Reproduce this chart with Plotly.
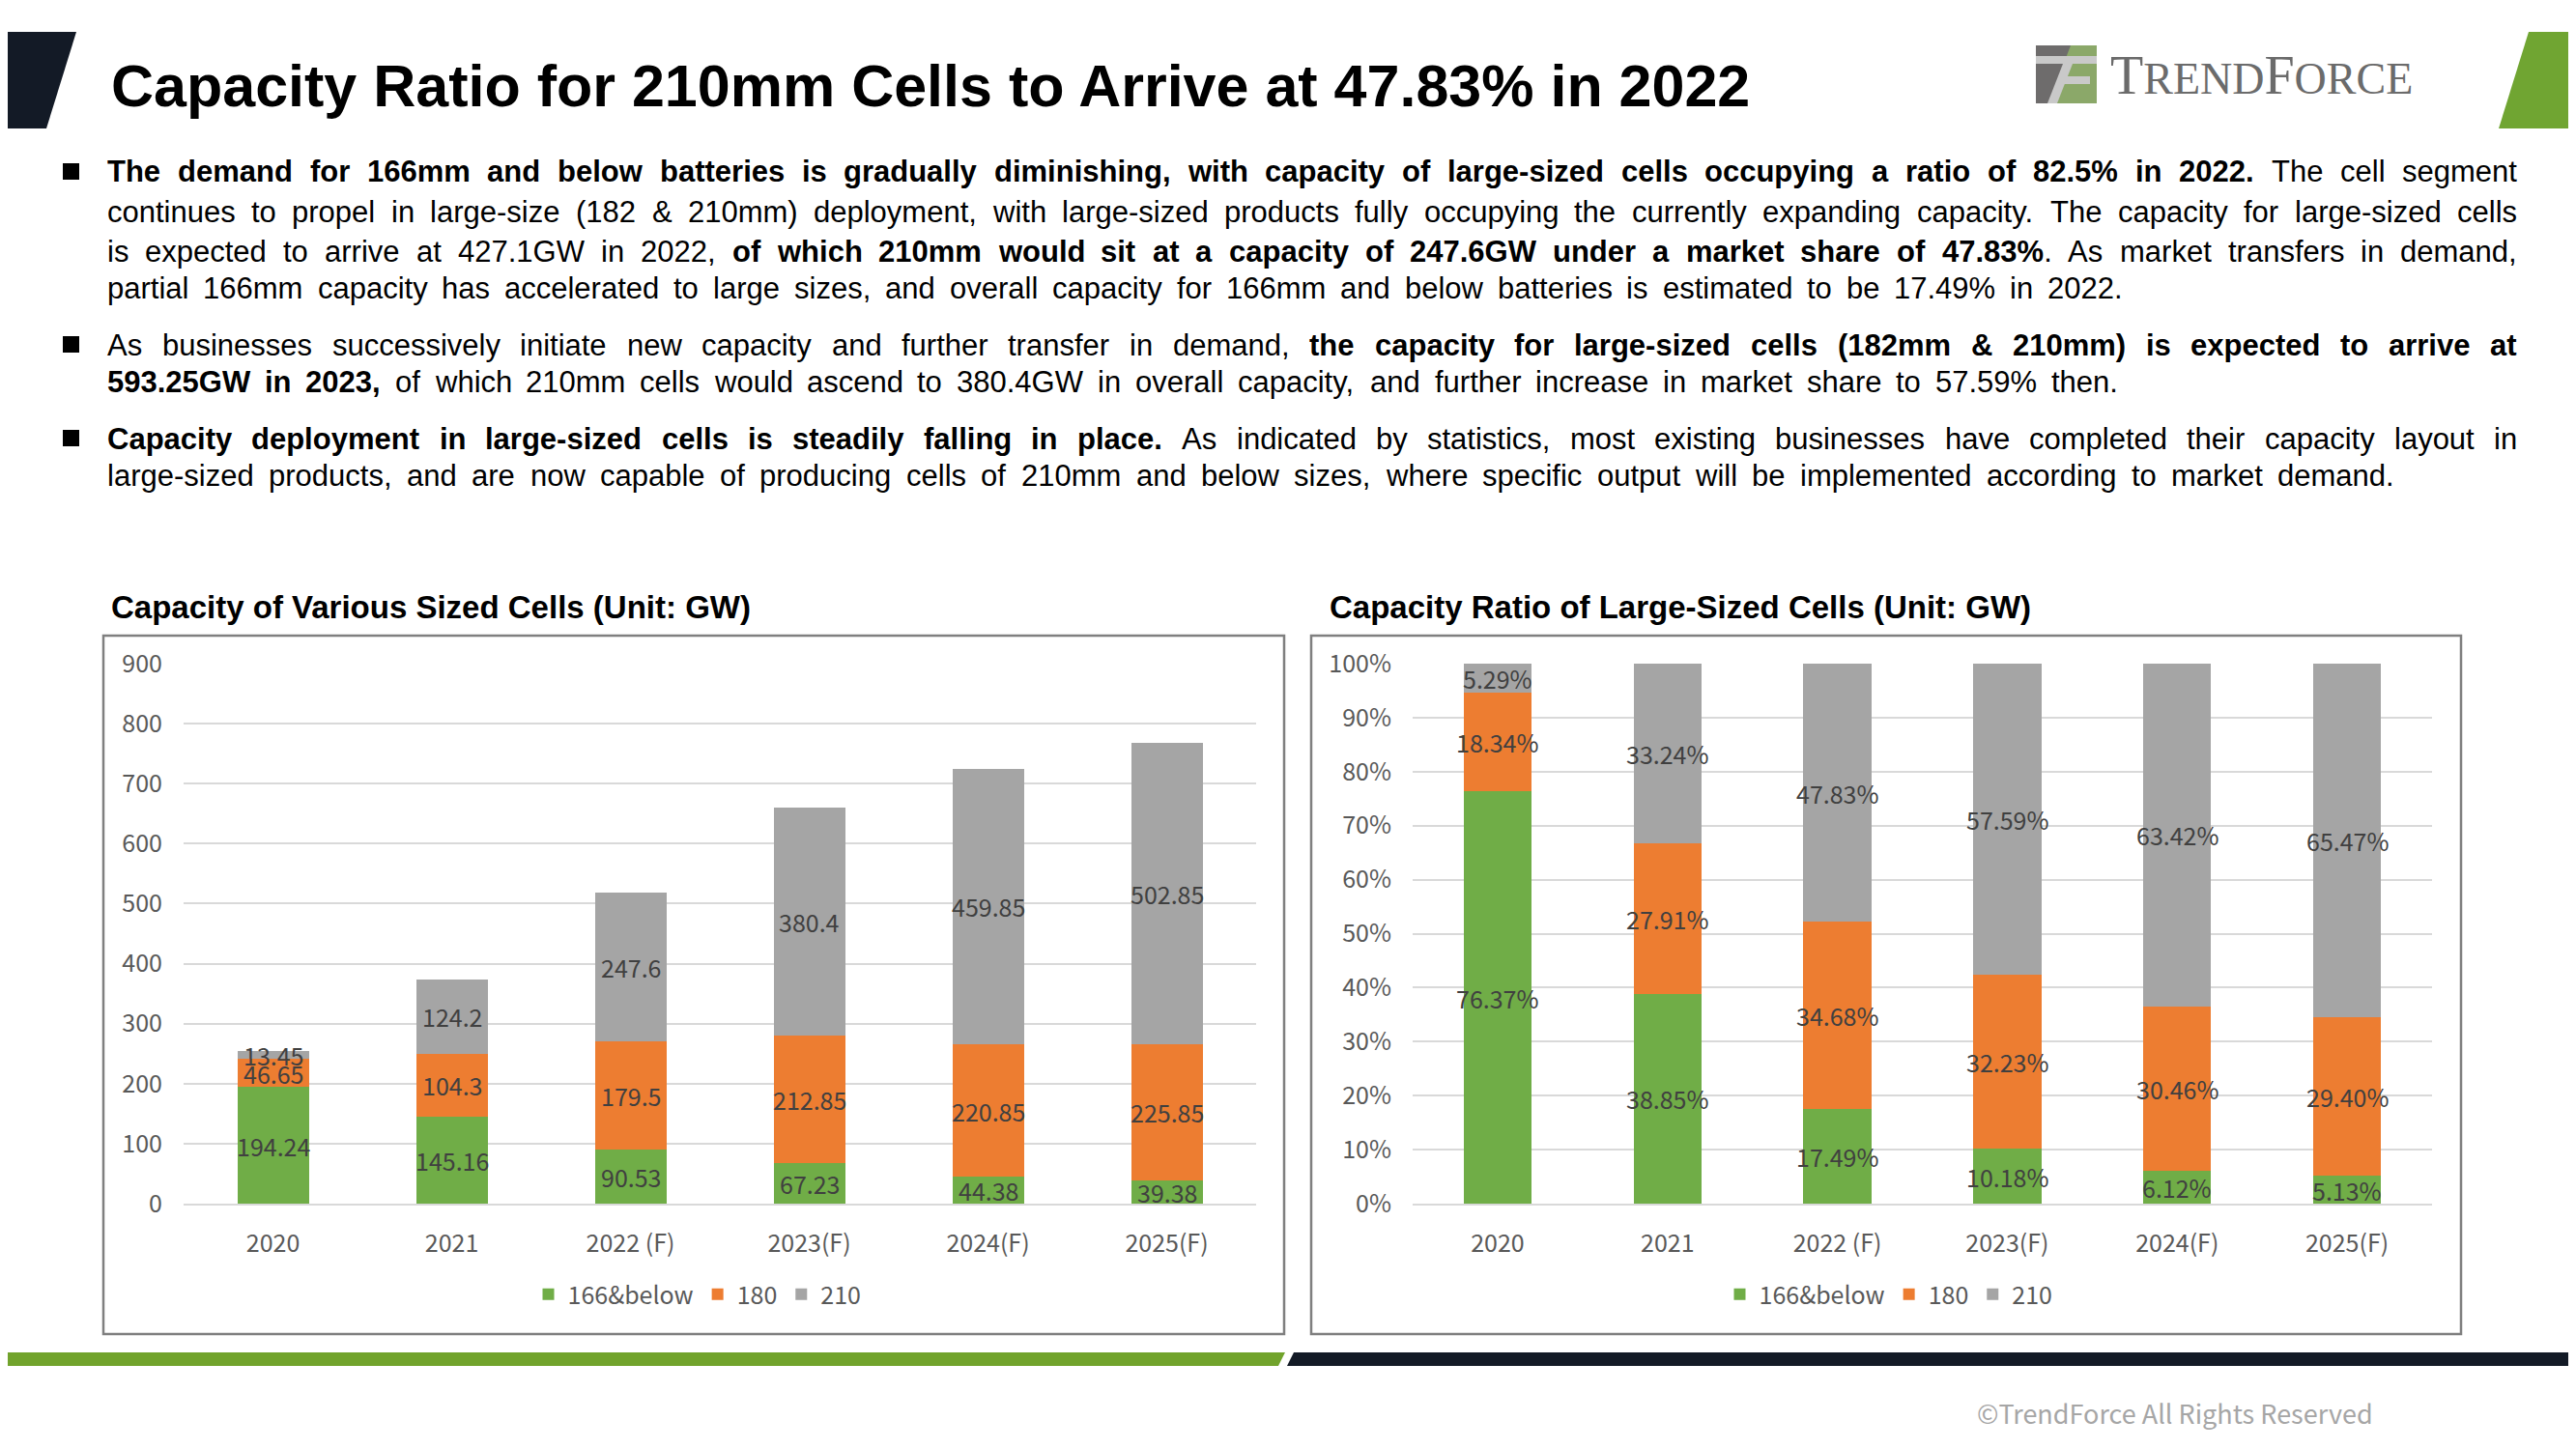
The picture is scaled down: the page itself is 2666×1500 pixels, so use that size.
import re
import plotly.graph_objects as go

# ---------------- data ----------------
categories = ["2020", "2021", "2022 (F)", "2023(F)", "2024(F)", "2025(F)"]
series_names = ["166&below", "180", "210"]
cap_166 = [194.24, 145.16, 90.53, 67.23, 44.38, 39.38]
cap_180 = [46.65, 104.3, 179.5, 212.85, 220.85, 225.85]
cap_210 = [13.45, 124.2, 247.6, 380.4, 459.85, 502.85]
ratio_166 = [76.37, 38.85, 17.49, 10.18, 6.12, 5.13]
ratio_180 = [18.34, 27.91, 34.68, 32.23, 30.46, 29.40]
ratio_210 = [5.29, 33.24, 47.83, 57.59, 63.42, 65.47]
left_ticks = [0, 100, 200, 300, 400, 500, 600, 700, 800, 900]
right_ticks = [0, 10, 20, 30, 40, 50, 60, 70, 80, 90, 100]

colors = ["#70AD47", "#ED7D31", "#A5A5A5"]

W, H = 2666, 1500
OX, OY = 8, 8   # page body margin compensation
def X(px): return (px - OX) / W
def Y(py): return 1 - (py - OY) / H

LBL_FONT = "Noto Sans CJK TC"
LBL_COLOR = "#404040"
fig = go.Figure()

left_series = [cap_166, cap_180, cap_210]
right_series = [ratio_166, ratio_180, ratio_210]
for name, vals, col in zip(series_names, left_series, colors):
    fig.add_trace(go.Bar(x=categories, y=vals, name=name, marker_color=col, marker_line_width=0,
                         xaxis="x", yaxis="y", legend="legend", hoverinfo="skip"))
for name, vals, col in zip(series_names, right_series, colors):
    fig.add_trace(go.Bar(x=categories, y=vals, name=name, marker_color=col, marker_line_width=0,
                         xaxis="x2", yaxis="y2", legend="legend2", hoverinfo="skip"))

axis_font = dict(family=LBL_FONT, size=25, color="#595959")
ydom = [Y(1246), Y(687)]
common_x = dict(type="category", categoryorder="array", categoryarray=categories,
                range=[-0.5, len(categories) - 0.5],
                showgrid=False, zeroline=False, showline=True, linecolor="#D9D9D9", linewidth=2,
                tickfont=axis_font, ticks="outside", ticklen=18, tickcolor="rgba(0,0,0,0)",
                fixedrange=True)
common_y = dict(showgrid=True, gridcolor="#D9D9D9", gridwidth=2, zeroline=False, showline=False,
                tickfont=axis_font, ticks="outside", ticklen=16, tickcolor="rgba(0,0,0,0)",
                fixedrange=True)
leg_font = dict(family=LBL_FONT, size=25, color="#595959")

fig.update_layout(
    width=W, height=H, autosize=False,
    margin=dict(l=0, r=0, t=0, b=0, autoexpand=False),
    paper_bgcolor="white", plot_bgcolor="white",
    barmode="stack", bargap=0.6,
    xaxis=dict(domain=[X(190), X(1300)], anchor="y", **common_x),
    yaxis=dict(domain=ydom, anchor="x", range=[0, 900], tickvals=left_ticks, **common_y),
    xaxis2=dict(domain=[X(1462), X(2517)], anchor="y2", **common_x),
    yaxis2=dict(domain=ydom, anchor="x2", range=[0, 100], tickvals=right_ticks,
                ticktext=[f"{t}%" for t in right_ticks], **common_y),
    legend=dict(orientation="h", traceorder="normal", x=X(722), y=Y(1340), xanchor="center",
                yanchor="middle", font=leg_font, bgcolor="rgba(0,0,0,0)", itemclick=False),
    legend2=dict(orientation="h", traceorder="normal", x=X(1955), y=Y(1340), xanchor="center",
                 yanchor="middle", font=leg_font, bgcolor="rgba(0,0,0,0)", itemclick=False),
    showlegend=True,
)

shapes = []
def poly(pts, color):
    path = "M " + " L ".join(f"{X(a)} {Y(b)}" for a, b in pts) + " Z"
    shapes.append(dict(type="path", xref="paper", yref="paper", path=path, fillcolor=color, line_width=0))
def rect(x0, y0, x1, y1, color):
    shapes.append(dict(type="rect", xref="paper", yref="paper", x0=X(x0), x1=X(x1), y0=Y(y1), y1=Y(y0),
                       fillcolor=color, line_width=0))

poly([(0, 33), (79, 33), (48, 133), (0, 133)], "#131A26")
poly([(2617, 33), (2666, 33), (2666, 133), (2586, 133)], "#70A532")
# logo icon
rect(2107, 47, 2170, 107, "#8BA869")
poly([(2107, 47), (2143, 47), (2120, 107), (2107, 107)], "#6E6C6C")
rect(2107, 58, 2170, 66, "#C9C9C9")
poly([(2135, 66), (2145, 66), (2129, 107), (2119, 107)], "#C9C9C9")
rect(2132, 79, 2163, 87, "#C9C9C9")
# bullets
for cy in [178, 357, 454]:
    rect(65, cy - 9, 82, cy + 8, "#000000")
# chart frames
for x0, x1 in [(107, 1329), (1357, 2547)]:
    shapes.append(dict(type="rect", xref="paper", yref="paper", x0=X(x0), x1=X(x1),
                       y0=Y(1381), y1=Y(658), line=dict(color="#7F7F7F", width=2.5),
                       fillcolor="rgba(0,0,0,0)"))
# footer bars
poly([(0, 1400), (1330, 1400), (1323, 1414), (0, 1414)], "#71A32C")
poly([(1339, 1400), (2666, 1400), (2666, 1414), (1332, 1414)], "#131A26")
fig.update_layout(shapes=shapes)

ann = []
def txt(x, y, text, size, family="Liberation Sans", color="#000000", xanchor="left"):
    ann.append(dict(x=X(x), y=Y(y), xref="paper", yref="paper", text=text, showarrow=False,
                    xanchor=xanchor, yanchor="middle", align="left", borderpad=0,
                    font=dict(family=family, size=size, color=color)))

# data labels centred in each stacked segment (category serial index on the x axis)
def seg_labels(series, xa, ya, fmt):
    base = [0.0] * len(categories)
    for vals in series:
        for i, v in enumerate(vals):
            ann.append(dict(x=i, y=base[i] + v / 2, xref=xa, yref=ya, text=fmt(v),
                            showarrow=False, xanchor="center", yanchor="middle",
                            font=dict(family=LBL_FONT, size=25, color=LBL_COLOR)))
            base[i] += v
seg_labels(left_series, "x", "y", lambda v: f"{v:g}")
seg_labels(right_series, "x2", "y2", lambda v: f"{v:.2f}%")

txt(114, 89, "<b>Capacity Ratio for 210mm Cells to Arrive at 47.83% in 2022</b>", 61)
txt(2183, 78, "T<span style='font-size:46px'>REND</span>F<span style='font-size:46px'>ORCE</span>",
    56, family="Liberation Serif", color="#6B6B6B")

# ---- body text, justified word by word using Arial/Liberation Sans metrics ----
REG = dict(zip("ABCDEFGHIJKLMNOPQRSTUVWXYZ",
               [667, 667, 722, 722, 667, 611, 778, 722, 278, 500, 667, 556, 833, 722, 778, 667, 778, 722, 667, 611, 722, 667, 944, 667, 667, 611]))
REG.update(zip("abcdefghijklmnopqrstuvwxyz",
               [556, 556, 500, 556, 556, 278, 556, 556, 222, 222, 500, 222, 833, 556, 556, 556, 556, 333, 500, 278, 556, 500, 722, 500, 500, 500]))
BLD = dict(zip("ABCDEFGHIJKLMNOPQRSTUVWXYZ",
               [722, 722, 722, 722, 667, 611, 778, 722, 278, 556, 722, 611, 833, 722, 778, 667, 778, 722, 667, 611, 722, 667, 944, 667, 667, 611]))
BLD.update(zip("abcdefghijklmnopqrstuvwxyz",
               [556, 611, 556, 611, 556, 333, 611, 611, 278, 278, 556, 278, 889, 611, 611, 611, 611, 389, 556, 333, 611, 556, 778, 556, 556, 500]))
for d, amp, colon in [(REG, 667, 278), (BLD, 722, 333)]:
    d.update({c: 556 for c in "0123456789"})
    d.update({" ": 278, ".": 278, ",": 278, "%": 889, "&": amp, "(": 333, ")": 333, "-": 333, ":": colon})

def words_of(line):
    words, cur, bold = [], [], False
    for part in re.split(r"(</?b>)", line):
        if part == "<b>":
            bold = True; continue
        if part == "</b>":
            bold = False; continue
        pieces = part.split(" ")
        for j, p in enumerate(pieces):
            if j > 0 and cur:
                words.append(cur); cur = []
            if p:
                cur.append((p, bold))
    if cur:
        words.append(cur)
    return words

def esc(s):
    return s.replace("&", "&amp;")

BODY_SIZE = 31
def place_line(y, line, x0, x1):
    ws = words_of(line)
    widths = [sum((BLD if b else REG)[c] for t, b in w for c in t) / 1000 * BODY_SIZE for w in ws]
    gap = (x1 - x0 - sum(widths)) / (len(ws) - 1)
    x = x0
    for w, wd in zip(ws, widths):
        html = "".join(f"<b>{esc(t)}</b>" if b else esc(t) for t, b in w)
        txt(x, y, html, BODY_SIZE)
        x += wd + gap

body_lines = [
    (178, 2604, "<b>The demand for 166mm and below batteries is gradually diminishing, with capacity of large-sized cells occupying a ratio of 82.5% in 2022.</b> The cell segment"),
    (219, 2604, "continues to propel in large-size (182 & 210mm) deployment, with large-sized products fully occupying the currently expanding capacity. The capacity for large-sized cells"),
    (260, 2604, "is expected to arrive at 427.1GW in 2022, <b>of which 210mm would sit at a capacity of 247.6GW under a market share of 47.83%</b>. As market transfers in demand,"),
    (299, 2196, "partial 166mm capacity has accelerated to large sizes, and overall capacity for 166mm and below batteries is estimated to be 17.49% in 2022."),
    (357, 2604, "As businesses successively initiate new capacity and further transfer in demand, <b>the capacity for large-sized cells (182mm & 210mm) is expected to arrive at</b>"),
    (396, 2191, "<b>593.25GW in 2023,</b> of which 210mm cells would ascend to 380.4GW in overall capacity, and further increase in market share to 57.59% then."),
    (454, 2604, "<b>Capacity deployment in large-sized cells is steadily falling in place.</b> As indicated by statistics, most existing businesses have completed their capacity layout in"),
    (493, 2477, "large-sized products, and are now capable of producing cells of 210mm and below sizes, where specific output will be implemented according to market demand."),
]
for y, xr, t in body_lines:
    place_line(y, t, 110, xr)

txt(114, 629, "<b>Capacity of Various Sized Cells (Unit: GW)</b>", 33)
txt(1375, 629, "<b>Capacity Ratio of Large-Sized Cells (Unit: GW)</b>", 33)
txt(2457, 1462, "©TrendForce All Rights Reserved", 27, family=LBL_FONT, color="#A6A6A6", xanchor="right")

fig.update_layout(annotations=ann)
fig.write_html("out.html")
